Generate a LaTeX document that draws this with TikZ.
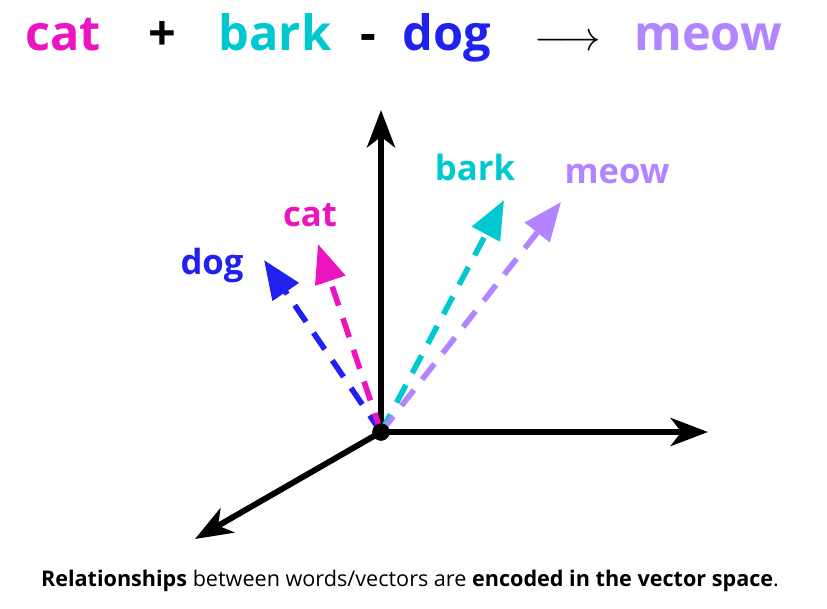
\documentclass[tikz,border=0pt]{standalone}
\usepackage{fontspec}
\setmainfont{Open Sans}
\usepackage{xcolor}
\definecolor{catpink}{RGB}{236, 20, 190}
\definecolor{barkcyan}{RGB}{0, 200, 208}
\definecolor{dogblue}{RGB}{32, 32, 240}
\definecolor{meowlilac}{RGB}{178, 132, 255}
\usetikzlibrary{arrows.meta, positioning}

\begin{document}
\begin{tikzpicture}[x=0.75pt, y=-0.75pt,
        word/.style={font=\fontsize{36.5}{40}\selectfont\bfseries, anchor=base},
        vlabel/.style={font=\fontsize{26}{28}\selectfont\bfseries, anchor=base},
        axis/.style={draw=black, line width=4.4pt, -{Stealth[length=28pt, width=21pt, inset=8pt]}},
        vec/.style={line width=4.2pt, dash pattern=on 15pt off 10pt, -{Triangle[length=29pt, width=23pt]}}]

        \useasboundingbox (0,0) rectangle (827,608);

        % the equation on top
        \node [word, text=catpink] (wcat) at (63,50) {cat};
        \node [word] (plus) at (162,50) {+};
        \node [word, text=barkcyan] (wbark) at (275,50) {bark};
        \node [word] (minus) at (368,50) {-};
        \node [word, text=dogblue] (wdog) at (447,50) {dog};
        \node [word] (arr) at (568,50) {\scalebox{1.25}{$\longrightarrow$}};
        \node [word, text=meowlilac] (wmeow) at (708,50) {meow};

        % axes
        \node [circle, fill=black, inner sep=0pt, minimum size=13pt] (orig) at (381,432) {};
        \coordinate (ytip) at (381,110);
        \coordinate (xtip) at (708,432);
        \coordinate (ztip) at (195,539);
        \draw [axis] (orig.center) -- (ytip);
        \draw [axis] (orig.center) -- (xtip);
        \draw [axis] (orig.center) -- (ztip);

        % word vectors
        \coordinate (dogtip) at (264,260);
        \coordinate (cattip) at (318,244);
        \coordinate (barktip) at (504,200);
        \coordinate (meowtip) at (561,202);
        \draw [vec, dogblue] (orig.center) -- (dogtip);
        \draw [vec, catpink] (orig.center) -- (cattip);
        \draw [vec, barkcyan] (orig.center) -- (barktip);
        \draw [vec, meowlilac] (orig.center) -- (meowtip);
        \node [circle, fill=black, inner sep=0pt, minimum size=13pt] at (orig) {};

        \node [vlabel, text=dogblue] (ldog) at (212,274) {dog};
        \node [vlabel, text=catpink] (lcat) at (310,226) {cat};
        \node [vlabel, text=barkcyan] (lbark) at (475,180) {bark};
        \node [vlabel, text=meowlilac] (lmeow) at (617,183) {meow};

        \node [font=\fontsize{16.2}{18}\selectfont, anchor=base] (caption) at (410,586)
            {\textbf{Relationships} between words/vectors are \textbf{encoded in the vector space}.};
    \end{tikzpicture}
\end{document}
